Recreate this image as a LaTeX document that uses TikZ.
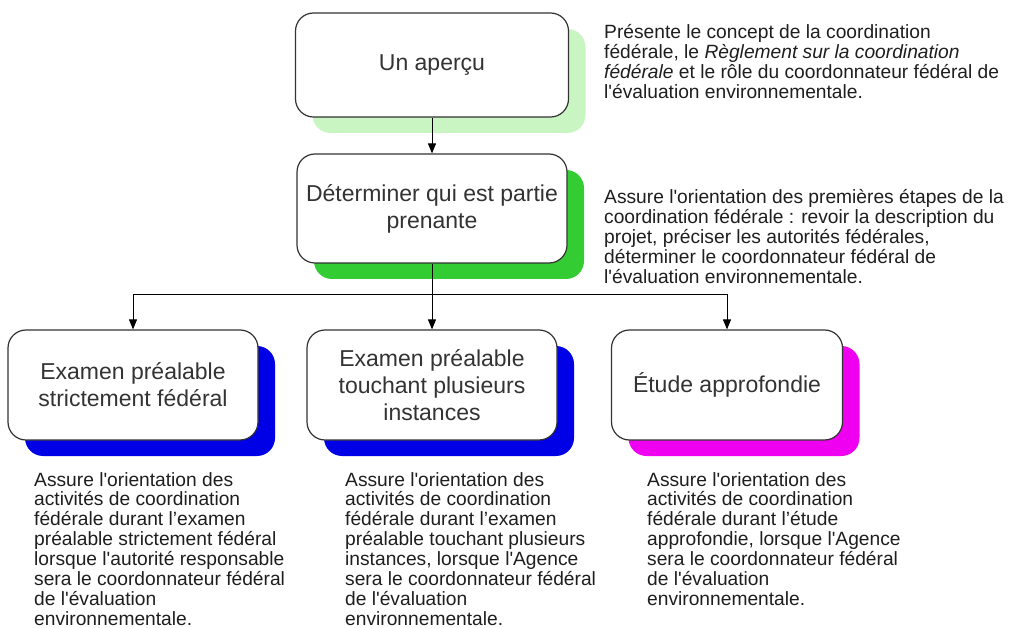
\documentclass[tikz,border=0pt]{standalone}
\usepackage{fontspec}
\setmainfont{Liberation Sans}[Ligatures=TeXOff]
\usetikzlibrary{shadows,arrows.meta}
\definecolor{txt}{HTML}{1E1E1E}
\definecolor{edge}{HTML}{333333}
\definecolor{lgreen}{HTML}{C8F5C2}
\definecolor{dgreen}{HTML}{33CC33}
\definecolor{sblue}{HTML}{0000E6}
\definecolor{smag}{HTML}{F000F0}
\newcommand{\boxfont}{\fontsize{23}{27}\selectfont}
\newcommand{\descfont}{\fontsize{19.2}{19.5}\selectfont}
\newcommand{\desc}[1]{\descfont\renewcommand{\arraystretch}{1}\setlength{\tabcolsep}{0pt}\begin{tabular}[t]{l}#1\end{tabular}}
\tikzset{
  stepbox/.style n args={3}{draw=edge, line width=1.2pt, fill=white, rounded corners=18pt,
    minimum width=#1, minimum height=#2, inner sep=0pt, align=center, text=edge, font=\boxfont,
    general shadow={fill=#3, shadow xshift=17pt, shadow yshift=-16pt}},
  desctext/.style={anchor=base west, inner sep=0pt, text=txt},
  arr/.style={draw=black, line width=1pt, -{Triangle[length=10pt,width=8pt]}},
  plain/.style={draw=black, line width=1pt}
}
\begin{document}
\begin{tikzpicture}[x=1pt,y=-1pt]
\useasboundingbox (0,0) rectangle (1015,628);
% boxes
\node[stepbox={273pt}{104pt}{lgreen}] (ap) at (432,65) {Un aperçu};
\node[stepbox={270pt}{109pt}{dgreen}] (det) at (432,208.5) {Déterminer qui est partie\\prenante};
\node[stepbox={250pt}{110pt}{sblue}] (b1) at (133,385) {Examen préalable\\strictement fédéral};
\node[stepbox={250pt}{110pt}{sblue}] (b2) at (432,385) {Examen préalable\\touchant plusieurs\\instances};
\node[stepbox={231pt}{110pt}{smag}] (b3) at (727,385) {Étude approfondie};
% connectors
\coordinate (j) at (432,295);
\draw[arr] (ap.south) -- (det.north);
\draw[plain] (det.south) -- (j);
\draw[arr] (j) -| (b1.north);
\draw[arr] (j) -| (b3.north);
\draw[arr] (j) -- (b2.north);
% descriptions
\node[desctext] (d0) at (604,39) {\desc{Présente le concept de la coordination\\
fédérale, le \textit{Règlement sur la coordination}\\
\textit{fédérale} et le rôle du coordonnateur fédéral de\\
l'évaluation environnementale.}};
\node[desctext] (d1) at (604,204) {\desc{Assure l'orientation des premières étapes de la\\
coordination fédérale : revoir la description du\\
projet, préciser les autorités fédérales,\\
déterminer le coordonnateur fédéral de\\
l'évaluation environnementale.}};
\node[desctext] (d2) at (34,486) {\desc{Assure l'orientation des\\
activités de coordination\\
fédérale durant l’examen\\
préalable strictement fédéral\\
lorsque l'autorité responsable\\
sera le coordonnateur fédéral\\
de l'évaluation\\
environnementale.}};
\node[desctext] (d3) at (345,486) {\desc{Assure l'orientation des\\
activités de coordination\\
fédérale durant l’examen\\
préalable touchant plusieurs\\
instances, lorsque l'Agence\\
sera le coordonnateur fédéral\\
de l'évaluation\\
environnementale.}};
\node[desctext] (d4) at (647,486) {\desc{Assure l'orientation des\\
activités de coordination\\
fédérale durant l’étude\\
approfondie, lorsque l'Agence\\
sera le coordonnateur fédéral\\
de l'évaluation\\
environnementale.}};
\end{tikzpicture}
\end{document}
